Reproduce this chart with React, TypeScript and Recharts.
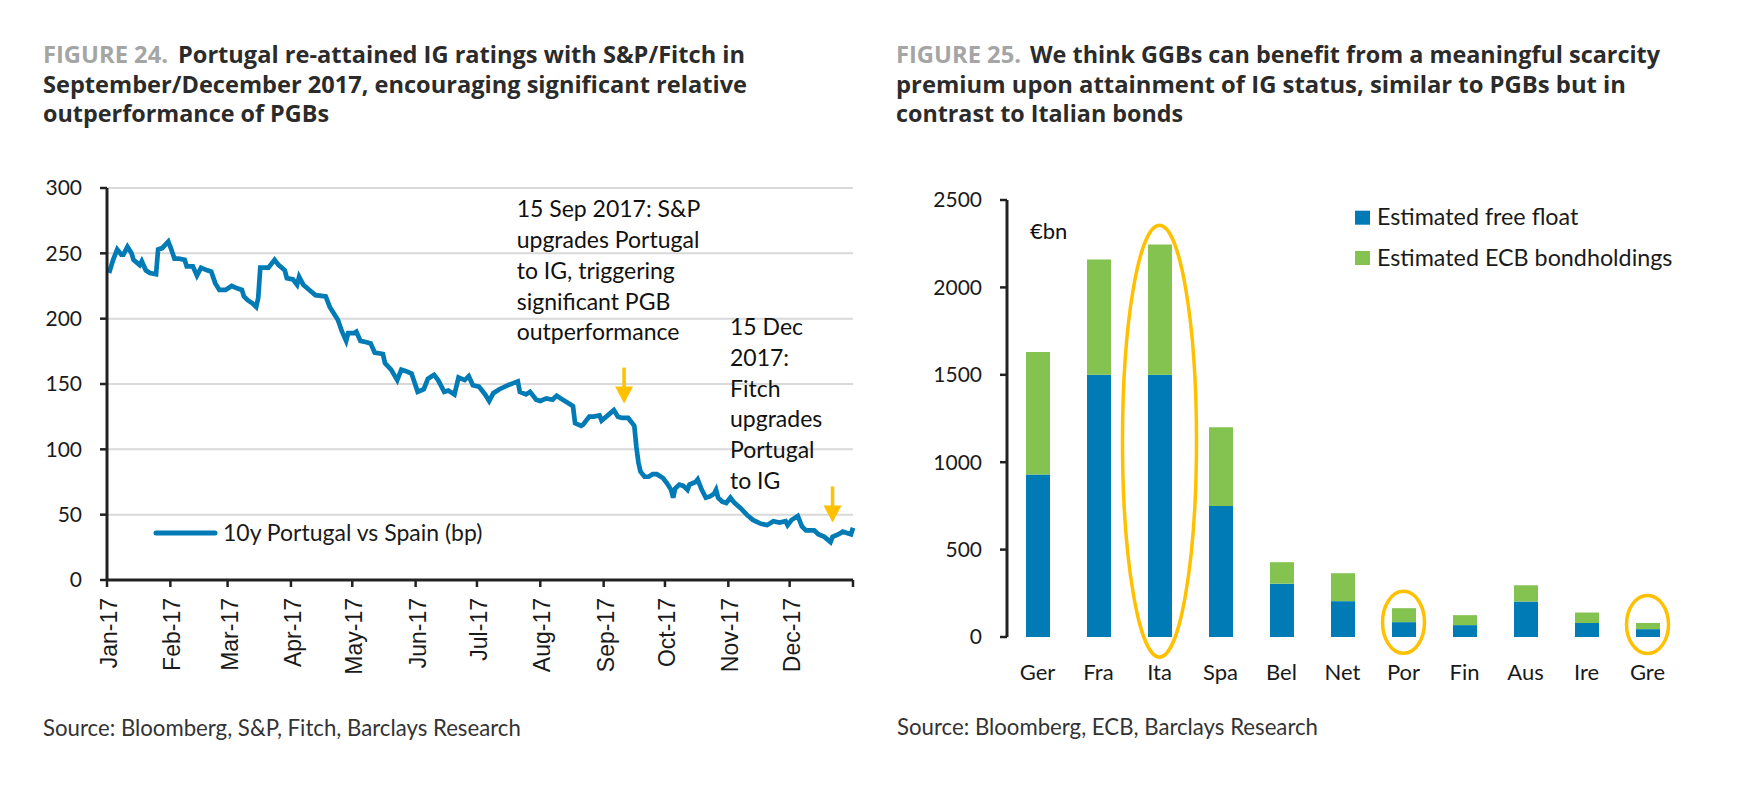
import React from 'react';
import {
  LineChart, Line, BarChart, Bar, XAxis, YAxis, CartesianGrid,
  Legend, ReferenceDot
} from 'recharts';

// Figure 24: 10y Portugal vs Spain spread, days since 1 Jan 2017
const monthLabels = ['Jan-17', 'Feb-17', 'Mar-17', 'Apr-17', 'May-17', 'Jun-17',
  'Jul-17', 'Aug-17', 'Sep-17', 'Oct-17', 'Nov-17', 'Dec-17'];
const monthStartDays = [0, 31, 59, 90, 120, 151, 181, 212, 243, 273, 304, 334, 365];
const spreadTicks = [0, 50, 100, 150, 200, 250, 300];

const spreadDay = [
  1, 3, 5, 7, 8, 10, 12, 13, 16, 17,
  19, 21, 24, 25, 27, 30, 31, 33, 35, 38,
  39, 42, 44, 46, 49, 51, 53, 55, 58, 61,
  64, 66, 67, 69, 71, 73, 74, 75, 77, 79,
  82, 84, 87, 88, 91, 93, 94, 96, 99, 102,
  107, 109, 113, 115, 117, 118, 121, 122, 124, 127,
  129, 131, 135, 136, 139, 142, 144, 146, 149, 152,
  155, 157, 158, 160, 162, 165, 167, 170, 172, 175,
  177, 179, 182, 185, 187, 189, 192, 196, 201, 202,
  205, 207, 210, 212, 215, 218, 220, 223, 226, 228,
  229, 232, 233, 236, 238, 241, 242, 245, 248, 250,
  252, 255, 258, 259, 260, 261, 263, 265, 267, 269,
  272, 274, 276, 277, 278, 280, 282, 284, 285, 288,
  289, 291, 293, 295, 297, 298, 299, 301, 303, 305,
  307, 310, 313, 316, 320, 323, 326, 329, 332, 333,
  335, 338, 340, 342, 346, 348, 351, 354, 355, 358,
  360, 362, 364, 365,
];
const spreadBp = [
  235, 245, 253, 249, 249, 255, 250, 245, 241, 244,
  237, 235, 234, 253, 254, 259, 255, 246, 246, 245,
  240, 240, 233, 239, 237, 236, 227, 222, 222, 225,
  223, 222, 217, 214, 212, 209, 216, 239, 239, 239,
  245, 241, 237, 231, 230, 226, 232, 226, 222, 218,
  217, 209, 199, 190, 183, 189, 189, 190, 183, 182,
  181, 174, 173, 166, 161, 153, 161, 160, 158, 144,
  146, 154, 155, 157, 153, 144, 145, 142, 155, 153,
  156, 149, 148, 142, 137, 143, 146, 149, 152, 144,
  142, 144, 138, 137, 139, 138, 141, 138, 135, 133,
  120, 118, 119, 125, 125, 126, 122, 126, 130, 125,
  124, 124, 118, 102, 90, 83, 79, 79, 81, 81,
  78, 74, 69, 63, 70, 73, 72, 69, 73, 75,
  77, 69, 63, 64, 66, 69, 63, 60, 59, 63,
  59, 55, 50, 46, 43, 42, 45, 44, 45, 42,
  46, 49, 41, 38, 38, 35, 33, 29, 33, 35,
  37, 36, 35, 40,
];

// rating events (arrow tips)
const upgradeDay = [253, 355];
const upgradeBp = [135, 44];

// Figure 25: EUR bn
const countries = ['Ger', 'Fra', 'Ita', 'Spa', 'Bel', 'Net', 'Por', 'Fin', 'Aus', 'Ire', 'Gre'];
const freeFloat = [930, 1500, 1500, 750, 305, 205, 85, 68, 203, 80, 45];
const ecbHoldings = [700, 660, 745, 450, 123, 160, 80, 57, 93, 60, 35];
const stockTicks = [0, 500, 1000, 1500, 2000, 2500];

const BLUE = '#007bb6';
const GREEN = '#85c350';
const ORANGE = '#ffc000';
const AXIS = '#222';
const FONT = 'Lato, "Noto Sans", sans-serif';
const TITLE_FONT = '"Open Sans", Lato, sans-serif';

const spreadData = spreadDay.map((d, i) => ({ day: d, bp: spreadBp[i] }));
const stockData = countries.map((c, i) => ({ country: c, free: freeFloat[i], ecb: ecbHoldings[i] }));
const boundaryTicks = countries.map((_, i) => i).concat(countries.length);

const MonthTick = (props: any) => {
  const { x, y, payload } = props;
  const idx = monthStartDays.indexOf(payload.value);
  const label = idx >= 0 && idx < monthLabels.length ? monthLabels[idx] : '';
  const tx = x + 10;
  const ty = y + 9;
  return (
    <text x={tx} y={ty} transform={`rotate(-90, ${tx}, ${ty})`} textAnchor="end"
      fontFamily='"Liberation Sans", Arial, sans-serif' fontSize={23} fill="#1a1a1a">
      {label}
    </text>
  );
};

const Arrow = (props: any) => {
  const { cx, cy } = props;
  return (
    <g>
      <line x1={cx} y1={cy - 36} x2={cx} y2={cy - 14} stroke={ORANGE} strokeWidth={3.5} />
      <polygon points={`${cx - 9},${cy - 17} ${cx + 9},${cy - 17} ${cx},${cy}`} fill={ORANGE} />
    </g>
  );
};

const ellipseShape = (rx: number, ry: number) => (props: any) => (
  <ellipse cx={props.cx} cy={props.cy} rx={rx} ry={ry} fill="none" stroke={ORANGE} strokeWidth={3.5} />
);

const SpreadLegend = () => (
  <svg width={360} height={42}>
    <line x1={8} y1={23} x2={67} y2={23} stroke={BLUE} strokeWidth={5} strokeLinecap="round" />
    <text x={75} y={30.7} fontFamily={FONT} fontSize={23} fill="#1a1a1a">10y Portugal vs Spain (bp)</text>
  </svg>
);

const StockLegend = () => (
  <svg width={380} height={90}>
    <rect x={5} y={15.7} width={15} height={14} fill={BLUE} />
    <text x={27} y={30} fontFamily={FONT} fontSize={23.3} fill="#1a1a1a">Estimated free float</text>
    <rect x={5} y={56} width={15} height={14} fill={GREEN} />
    <text x={27} y={71} fontFamily={FONT} fontSize={23.3} fill="#1a1a1a">Estimated ECB bondholdings</text>
  </svg>
);

function SpreadChart() {
  return (
    <LineChart width={880} height={600} data={spreadData}
      margin={{ top: 38, right: 27, bottom: 20, left: 0 }}>
      <CartesianGrid vertical={false} stroke="#d9d9d9" strokeWidth={2} />
      <XAxis dataKey="day" type="number" domain={[0, 365]} ticks={monthStartDays} interval={0}
        height={150} tickSize={7} tick={<MonthTick />}
        axisLine={{ stroke: AXIS, strokeWidth: 3 }} tickLine={{ stroke: AXIS, strokeWidth: 2.5 }} />
      <YAxis type="number" domain={[0, 300]} ticks={spreadTicks} interval={0} width={107}
        tickSize={7} tickMargin={18}
        tick={{ fontFamily: FONT, fontSize: 21, fill: '#1a1a1a' }}
        axisLine={{ stroke: AXIS, strokeWidth: 3 }} tickLine={{ stroke: AXIS, strokeWidth: 2.5 }} />
      <Legend content={<SpreadLegend />} layout="horizontal" verticalAlign="middle" align="center"
        wrapperStyle={{ left: 148, top: 360, width: 360, height: 42 }} />
      <Line dataKey="bp" type="linear" stroke={BLUE} strokeWidth={4.7} dot={false}
        isAnimationActive={false} />
      {upgradeDay.map((d, i) => (
        <ReferenceDot key={d} x={d} y={upgradeBp[i]} ifOverflow="visible" shape={<Arrow />} />
      ))}
    </LineChart>
  );
}

function StockChart() {
  return (
    <BarChart width={876} height={600} data={stockData}
      margin={{ top: 50, right: 78, bottom: 53, left: 0 }}>
      <XAxis xAxisId="bounds" type="number" domain={[0, countries.length]} ticks={boundaryTicks}
        interval={0} height={0} tick={false} tickSize={8}
        axisLine={{ stroke: AXIS, strokeWidth: 3 }} tickLine={{ stroke: AXIS, strokeWidth: 2.5 }} />
      <XAxis dataKey="country" height={60} axisLine={false} tickLine={false} tickSize={0}
        tickMargin={27} interval={0}
        tick={{ fontFamily: FONT, fontSize: 22, fill: '#1a1a1a' }} />
      <YAxis type="number" domain={[0, 2500]} ticks={stockTicks} interval={0} width={127}
        tickSize={7} tickMargin={18}
        tick={{ fontFamily: FONT, fontSize: 21, fill: '#1a1a1a' }}
        axisLine={{ stroke: AXIS, strokeWidth: 3 }} tickLine={{ stroke: AXIS, strokeWidth: 2.5 }} />
      <Legend content={<StockLegend />} layout="horizontal" verticalAlign="middle" align="center"
        wrapperStyle={{ left: 470, top: 45, width: 380, height: 90 }} />
      <Bar dataKey="free" stackId="s" fill={BLUE} barSize={24} isAnimationActive={false} />
      <Bar dataKey="ecb" stackId="s" fill={GREEN} barSize={24} isAnimationActive={false} />
      <ReferenceDot x="Ita" y={1120} ifOverflow="visible" shape={ellipseShape(37, 216)} />
      <ReferenceDot x="Por" y={84} ifOverflow="visible" shape={ellipseShape(21, 31)} />
      <ReferenceDot x="Gre" y={72} ifOverflow="visible" shape={ellipseShape(21, 29)} />
    </BarChart>
  );
}

// one line of a figure title, stretched to the width it has in the report
const TitleLine = ({ x, y, width, text, color }: any) => (
  <text x={x} y={y} fontFamily={TITLE_FONT} fontSize={23} fontWeight={700} fill={color}
    textLength={width} lengthAdjust="spacingAndGlyphs">
    {text}
  </text>
);

export default function App() {
  const grey = '#a5a5a5';
  const dark = '#2b2b2b';
  const note = { fontFamily: FONT, fontSize: 23, fill: '#111' } as const;
  return (
    <div style={{ position: 'absolute', left: 0, top: 0, width: 1756, height: 789, background: '#fff', overflow: 'hidden', fontFamily: FONT }}>
      <div style={{ position: 'absolute', left: 0, top: 150 }}>
        <SpreadChart />
      </div>
      <div style={{ position: 'absolute', left: 880, top: 150 }}>
        <StockChart />
      </div>
      <svg width={1756} height={789} style={{ position: 'absolute', left: 0, top: 0, pointerEvents: 'none' }}>
        <TitleLine x={43} y={63} width={125} text="FIGURE 24." color={grey} />
        <TitleLine x={178} y={63} width={567} text="Portugal re-attained IG ratings with S&P/Fitch in" color={dark} />
        <TitleLine x={43} y={92.5} width={704} text="September/December 2017, encouraging significant relative" color={dark} />
        <TitleLine x={43} y={121.5} width={286} text="outperformance of PGBs" color={dark} />

        <TitleLine x={896} y={63} width={125} text="FIGURE 25." color={grey} />
        <TitleLine x={1030} y={63} width={630} text="We think GGBs can benefit from a meaningful scarcity" color={dark} />
        <TitleLine x={896} y={92.5} width={730} text="premium upon attainment of IG status, similar to PGBs but in" color={dark} />
        <TitleLine x={896} y={121.5} width={287} text="contrast to Italian bonds" color={dark} />

        <text x={516.7} y={217} {...note}>15 Sep 2017: S&amp;P</text>
        <text x={516.7} y={248} {...note}>upgrades Portugal</text>
        <text x={516.7} y={279} {...note}>to IG, triggering</text>
        <text x={516.7} y={309.5} {...note}>significant PGB</text>
        <text x={516.7} y={340} {...note}>outperformance</text>

        <text x={730} y={335} {...note}>15 Dec</text>
        <text x={730} y={366} {...note}>2017:</text>
        <text x={730} y={396.5} {...note}>Fitch</text>
        <text x={730} y={427} {...note}>upgrades</text>
        <text x={730} y={458} {...note}>Portugal</text>
        <text x={730} y={488.5} {...note}>to IG</text>

        <text x={1030} y={239} fontFamily={FONT} fontSize={22} fill="#111">€bn</text>

        <text x={43} y={736} fontFamily={FONT} fontSize={22.2} fill="#333">Source: Bloomberg, S&amp;P, Fitch, Barclays Research</text>
        <text x={897} y={735} fontFamily={FONT} fontSize={22.2} fill="#333">Source: Bloomberg, ECB, Barclays Research</text>
      </svg>
    </div>
  );
}
